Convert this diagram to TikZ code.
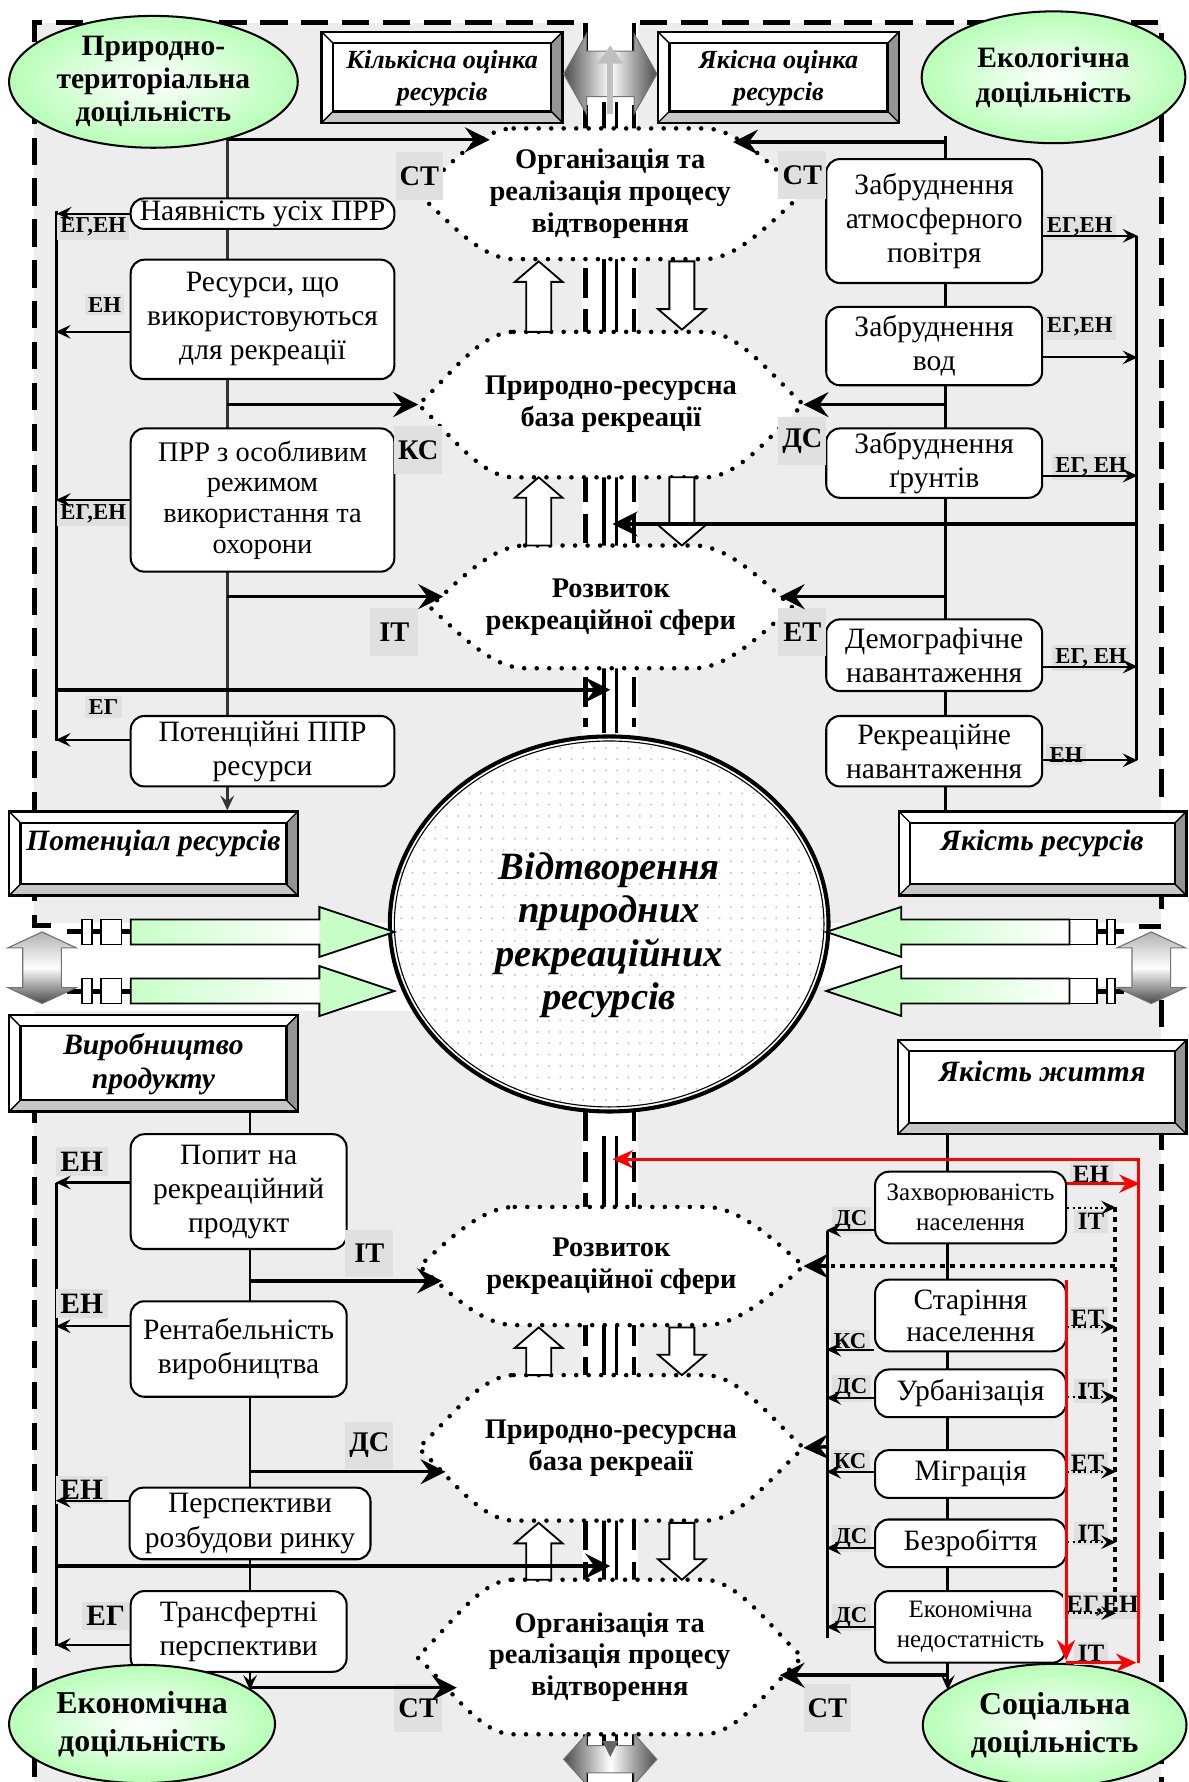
\documentclass[tikz,border=0pt]{standalone}
\usepackage{fontspec}
\setmainfont{Liberation Serif}
\usetikzlibrary{arrows.meta,positioning,calc,shapes.geometric}

\tikzset{
  fon/.style={fill=black!7},
  ramka/.style={line width=2.2pt, dash pattern=on 12pt off 6pt},
  vis/.style={line width=2pt, dash pattern=on 13pt off 5pt},
  chynnyk/.style={draw, line width=0.9pt, rounded corners=6pt, fill=white, align=center, inner sep=1pt, font=\fontsize{13}{15}\selectfont},
  chynnykm/.style={chynnyk, font=\fontsize{11}{13}\selectfont},
  docil/.style={ellipse, draw, line width=0.9pt, inner sep=0pt, align=center, inner color=white, outer color=green!28, font=\bfseries\fontsize{13}{14.5}\selectfont},
  otsinka/.style={align=center, font=\bfseries\itshape\fontsize{13}{15}\selectfont},
  etap/.style={align=center, font=\bfseries\fontsize{12.5}{14}\selectfont},
  kolo/.style={align=center, font=\bfseries\itshape\fontsize{17}{19}\selectfont},
  punktyr/.style={line width=2pt, dash pattern=on 0pt off 5.5pt, line cap=round},
  tochky/.style={line width=2pt, dash pattern=on 2.2pt off 2.2pt},
  mitka/.style={fill=black!12, font=\bfseries\fontsize{12.5}{13}\selectfont, inner sep=0pt, minimum width=21pt, minimum height=21pt},
  mitkam/.style={fill=black!12, font=\bfseries\fontsize{10}{10}\selectfont, inner sep=1.5pt},
  mitkar/.style={fill=black!12, font=\bfseries\fontsize{11}{11}\selectfont, inner sep=1.5pt},
  mitkab/.style={fill=black!12, font=\bfseries\fontsize{13}{13}\selectfont, inner sep=2pt},
  shyna/.style={line width=1.2pt},
  potik/.style={line width=1.5pt, -{Stealth[length=11pt,width=11pt,inset=4pt]}},
  vplyv/.style={line width=0.9pt, -{Stealth[length=6.5pt,width=6pt,inset=2.5pt]}},
  zvyaz/.style={line width=0.9pt, dash pattern=on 1pt off 1.5pt, -{Stealth[length=6.5pt,width=6pt,inset=2.5pt]}},
  chervona/.style={red, line width=1.3pt, -{Stealth[length=9pt,width=8pt,inset=3pt]}},
}

% рамка з фаскою: x1, y1, x2, y2
\newcommand{\obrys}[4]{%
  \fill[white] (#1,#2) rectangle (#3,#4);
  \fill[black!42] (#3,#2) -- (#3-10,#2+10) -- (#3-10,#4-10) -- (#3,#4) -- cycle;
  \fill[black!22] (#1,#4) -- (#1+10,#4-10) -- (#3-10,#4-10) -- (#3,#4) -- cycle;
  \draw[line width=1pt] (#1,#2) rectangle (#3,#4);
  \draw[line width=1pt] (#1+10,#2+10) rectangle (#3-10,#4-10);
  \draw[line width=0.6pt] (#1,#2) -- (#1+10,#2+10) (#3,#2) -- (#3-10,#2+10) (#1,#4) -- (#1+10,#4-10) (#3,#4) -- (#3-10,#4-10);
}
% етап: назва, верх, низ, лівий кінчик, правий кінчик, текст
\newcommand{\etapblock}[6]{%
  \pgfmathsetmacro{\hexym}{(#2+#3)/2}
  \pgfmathsetmacro{\hexxa}{#4+84}
  \pgfmathsetmacro{\hexxb}{#5-86}
  \filldraw[punktyr, fill=white] (\hexxa,#2) -- (\hexxb,#2) .. controls (\hexxb+30,#2) and (#5-25,\hexym-22) .. (#5,\hexym) .. controls (#5-25,\hexym+22) and (\hexxb+30,#3) .. (\hexxb,#3) -- (\hexxa,#3) .. controls (\hexxa-30,#3) and (#4+25,\hexym+22) .. (#4,\hexym) .. controls (#4+25,\hexym-22) and (\hexxa-30,#2) .. cycle;
  \coordinate (#1-w) at (#4,\hexym);
  \coordinate (#1-e) at (#5,\hexym);
  \node[etap] (#1) at ({(#4+#5)/2},\hexym) {#6};
}
% порожня стрілка: x, хвіст, вістря
\newcommand{\porozhnia}[3]{%
  \pgfmathsetmacro{\arrhb}{#3+18*sign(#2-#3)}
  \filldraw[fill=white, line width=0.8pt] (#1-11,#2) -- (#1-11,\arrhb) -- (#1-21,\arrhb) -- (#1,#3) -- (#1+21,\arrhb) -- (#1+11,\arrhb) -- (#1+11,#2) -- cycle;
}
% зелена стрілка: хвіст, вістря, y
\newcommand{\zelena}[3]{%
  \pgfmathsetmacro{\arrhb}{#2-66*sign(#2-#1)}
  \shade[left color=green!22, right color=white] (#1,#3-11) rectangle (\arrhb,#3+11);
  \fill[green!22] (\arrhb,#3-22) -- (#2,#3) -- (\arrhb,#3+22) -- cycle;
  \draw[line width=0.8pt] (#1,#3-11) -- (\arrhb,#3-11) -- (\arrhb,#3-22) -- (#2,#3) -- (\arrhb,#3+22) -- (\arrhb,#3+11) -- (#1,#3+11) -- cycle;
}
% сіра вертикальна подвійна стрілка: x, верх, низ
\newcommand{\sirav}[3]{%
  \shadedraw[top color=black!30, bottom color=black!72, middle color=white, draw=black!55, line width=0.5pt] (#1-17,#2+14) -- (#1-30,#2+14) -- (#1,#2) -- (#1+30,#2+14) -- (#1+17,#2+14) -- (#1+17,#3-14) -- (#1+30,#3-14) -- (#1,#3) -- (#1-30,#3-14) -- (#1-17,#3-14) -- cycle;
}
% сіра горизонтальна подвійна стрілка: лівий кінчик, правий кінчик, y, півширина вістря, півширина тіла
\newcommand{\sirah}[5]{%
  \shadedraw[left color=black!70, right color=black!70, middle color=white, draw=black!55, line width=0.5pt] (#1,#3) -- (#1+20,#3-#4) -- (#1+20,#3-#5) -- (#2-20,#3-#5) -- (#2-20,#3-#4) -- (#2,#3) -- (#2-20,#3+#4) -- (#2-20,#3+#5) -- (#1+20,#3+#5) -- (#1+20,#3+#4) -- cycle;
}

\begin{document}
\begin{tikzpicture}[x=0.5pt,y=-0.5pt]
  \useasboundingbox (0,0) rectangle (1046,1568); % межі рисунка
  \coordinate (lbus) at (50,0); % ліва шина
  \fill[fon] (30,20) rectangle (512,812); % фон зліва вгорі
  \fill[fon] (561,20) rectangle (1022,812); % фон справа вгорі
  \fill[fon] (30,890) rectangle (512,1568); % фон зліва внизу
  \fill[fon] (561,868) rectangle (1022,1568); % фон справа внизу
  \draw[ramka] (505,20) -- (30,20) -- (30,814) -- (52,814); % рамка ліворуч
  \draw[ramka] (563,20) -- (1022,20) -- (1022,800); % рамка праворуч
  \draw[ramka] (1002,815) -- (1022,815); % кут рамки
  \draw[ramka] (30,892) -- (30,1568); % рамка ліворуч унизу
  \draw[ramka] (1022,880) -- (1022,1568); % рамка праворуч унизу
  \draw[vis] (515,20) -- (515,640); % центральна вісь
  \draw[vis] (558,20) -- (558,640);
  \draw[vis] (515,978) -- (515,1568);
  \draw[vis] (558,978) -- (558,1568);
  \draw[line width=7pt] (537,90) -- (537,645); % подвійна лінія
  \draw[line width=4pt, white] (537,90) -- (537,645);
  \draw[line width=7pt] (537,1000) -- (537,1545);
  \draw[line width=4pt, white] (537,1000) -- (537,1545);

  \draw[shyna, black!80, -{Stealth[length=6.5pt,width=6pt,inset=2.5pt]}] (200,118) -- (200,713); % стовбур ліворуч
  \draw[shyna] (50,186) -- (50,652); % шина ліворуч
  \draw[shyna] (832,120) -- (832,714); % стовбур праворуч
  \draw[shyna] (1000,208) -- (1000,669); % шина праворуч
  \draw[shyna, -{Stealth[length=6.5pt,width=6pt,inset=2.5pt]}] (220,978) -- (220,1487); % стовбур ліворуч унизу
  \draw[shyna] (50,1041) -- (50,1448); % шина ліворуч унизу
  \draw[shyna, -{Stealth[length=6.5pt,width=6pt,inset=2.5pt]}] (834,998) -- (834,1487); % стовбур праворуч унизу
  \draw[shyna] (728,1083) -- (728,1441); % шина праворуч унизу

  \etapblock{org1}{113}{228}{368}{706}{Організація та\\реалізація процесу\\відтворення}
  \etapblock{baza1}{292}{420}{368}{707}{Природно-ресурсна\\база рекреації}
  \etapblock{rozv1}{480}{588}{378}{697}{Розвиток\\рекреаційної сфери}
  \etapblock{rozv2}{1062}{1166}{369}{707}{Розвиток\\рекреаційної сфери}
  \etapblock{baza2}{1210}{1338}{368}{707}{Природно-ресурсна\\база рекреаії}
  \etapblock{org2}{1390}{1526}{367}{706}{Організація та\\реалізація процесу\\відтворення}

  \node[chynnyk, minimum width=116pt, minimum height=13pt] (nayavn) at (231,188) {Наявність усіх ПРР};
  \node[chynnyk, minimum width=116pt, minimum height=52.5pt] (vykor) at (231,281) {Ресурси, що\\використовуються\\для рекреації};
  \node[chynnyk, minimum width=116pt, minimum height=63pt, font=\fontsize{12.5}{13.5}\selectfont] (osobl) at (231,440) {ПРР з особливим\\режимом\\використання та\\охорони};
  \node[chynnyk, minimum width=116pt, minimum height=31pt] (potents) at (231,661) {Потенційні ППР\\ресурси};
  \node[chynnyk, minimum width=95pt, minimum height=54.5pt] (atmos) at (822,194.5) {Забруднення\\атмосферного\\повітря};
  \node[chynnyk, minimum width=95pt, minimum height=34.5pt] (vody) at (822,304.5) {Забруднення\\вод};
  \node[chynnyk, minimum width=95pt, minimum height=30.5pt] (grunt) at (822,407.5) {Забруднення\\ґрунтів};
  \node[chynnyk, minimum width=95pt, minimum height=31.5pt] (demogr) at (822,576.5) {Демографічне\\навантаження};
  \node[chynnyk, minimum width=95pt, minimum height=31pt] (rekrnav) at (822,661) {Рекреаційне\\навантаження};
  \node[chynnyk, minimum width=95pt, minimum height=50.5pt] (popyt) at (210,1048.5) {Попит на\\рекреаційний\\продукт};
  \node[chynnyk, minimum width=95pt, minimum height=42pt] (rentab) at (210,1187) {Рентабельність\\виробництва};
  \node[chynnyk, minimum width=106pt, minimum height=31.5pt] (rynok) at (220,1340.5) {Перспективи\\розбудови ринку};
  \node[chynnyk, minimum width=95pt, minimum height=35.5pt] (transf) at (210,1435.5) {Трансфертні\\перспективи};
  \node[chynnykm, minimum width=84pt, minimum height=31.5pt] (zakhv) at (854,1062.5) {Захворюваність\\населення};
  \node[chynnyk, minimum width=84pt, minimum height=31.5pt, font=\fontsize{13}{14}\selectfont] (starin) at (854,1157.5) {Старіння\\населення};
  \node[chynnyk, minimum width=84pt, minimum height=21pt] (urban) at (854,1226) {Урбанізація};
  \node[chynnyk, minimum width=84pt, minimum height=21pt] (migr) at (854,1297) {Міграція};
  \node[chynnyk, minimum width=84pt, minimum height=21pt] (bezrob) at (854,1358) {Безробіття};
  \node[chynnykm, minimum width=84pt, minimum height=31.5pt] (ekned) at (854,1431.5) {Економічна\\недостатність};

  \porozhnia{474}{292}{230} % стрілки між етапами
  \porozhnia{600}{230}{290}
  \porozhnia{474}{480}{420}
  \porozhnia{600}{420}{480}
  \porozhnia{474}{1210}{1168}
  \porozhnia{600}{1168}{1210}
  \porozhnia{474}{1390}{1340}
  \porozhnia{600}{1340}{1390}

  \obrys{283}{28}{495}{108} % кількісна оцінка
  \node[otsinka, font=\bfseries\itshape\fontsize{11.5}{14}\selectfont] (kilk) at (389,69) {Кількісна оцінка\\ресурсів};
  \obrys{579}{28}{791}{108} % якісна оцінка
  \node[otsinka, font=\bfseries\itshape\fontsize{11.5}{14}\selectfont] (yakisna) at (685,69) {Якісна оцінка\\ресурсів};
  \obrys{8}{714}{262}{788} % потенціал
  \node[otsinka] (potentsial) at (135,742) {Потенціал ресурсів};
  \obrys{791}{714}{1044}{788} % якість ресурсів
  \node[otsinka] (yakres) at (917,742) {Якість ресурсів};
  \obrys{8}{893}{262}{978} % виробництво
  \node[otsinka] (vyrob) at (135,936) {Виробництво\\продукту};
  \obrys{790}{915}{1044}{998} % якість життя
  \node[otsinka] (yakzhyt) at (917,943) {Якість життя};

  \node[docil, minimum width=127pt, minimum height=58pt] (prter) at (135,72) {Природно-\\територіальна\\доцільність};
  \node[docil, minimum width=116pt, minimum height=58pt, font=\bfseries\fontsize{13}{15.5}\selectfont] (ekol) at (927,68) {Екологічна\\доцільність};
  \node[docil, minimum width=117pt, minimum height=52pt, font=\bfseries\fontsize{14}{17}\selectfont] (ekon) at (125,1517) {Економічна\\доцільність};
  \node[docil, minimum width=116pt, minimum height=54pt, font=\bfseries\fontsize{14}{17}\selectfont] (sots) at (928,1518) {Соціальна\\доцільність};

  \node[mitka] (st1) at (369,155) {СТ}; % мітки
  \node[mitka] (st2) at (706,154) {СТ};
  \node[mitka] (ks1) at (368,396) {КС};
  \node[mitka] (ds1) at (706,388) {ДС};
  \node[mitka] (it1) at (347,556) {ІТ};
  \node[mitka] (et1) at (706,556) {ЕТ};
  \node[mitkam] (m1) at (82,200) {ЕГ,ЕН};
  \node[mitkam] (m2) at (92,268) {ЕН};
  \node[mitkam] (m3) at (82,452) {ЕГ,ЕН};
  \node[mitkam] (m4) at (91,622) {ЕГ};
  \node[mitkam] (m5) at (950,200) {ЕГ,ЕН};
  \node[mitkam] (m6) at (950,288) {ЕГ,ЕН};
  \node[mitkam] (m7) at (960,411) {ЕГ, ЕН};
  \node[mitkam] (m8) at (960,579) {ЕГ, ЕН};
  \node[mitkam] (m9) at (938,664) {ЕН};
  \node[mitkab] (m10) at (72,1022) {ЕН};
  \node[mitkab] (m11) at (72,1147) {ЕН};
  \node[mitkab] (m12) at (72,1311) {ЕН};
  \node[mitkab] (m13) at (93,1422) {ЕГ};
  \node[mitka] (it2) at (325,1103) {ІТ};
  \node[mitka] (ds2) at (325,1272) {ДС};
  \node[mitka] (st3) at (368,1503) {СТ};
  \node[mitka] (st4) at (728,1503) {СТ};
  \node[mitkam] (m14) at (749,1074) {ДС};
  \node[mitkam] (m15) at (748,1180) {КС};
  \node[mitkam] (m16) at (749,1222) {ДС};
  \node[mitkam] (m17) at (748,1286) {КС};
  \node[mitkam] (m18) at (749,1354) {ДС};
  \node[mitkam] (m19) at (749,1423) {ДС};
  \node[mitkar] (m20) at (960,1033) {ЕН};
  \node[mitkar] (m21) at (960,1075) {ІТ};
  \node[mitkar] (m22) at (957,1160) {ЕТ};
  \node[mitkar] (m23) at (960,1224) {ІТ};
  \node[mitkar] (m24) at (957,1288) {ЕТ};
  \node[mitkar] (m25) at (960,1349) {ІТ};
  \node[mitkar] (m26) at (970,1413) {ЕГ,ЕН};
  \node[mitkar] (m27) at (960,1455) {ІТ};

  \draw[vplyv] (nayavn.west) -- (nayavn.west -| lbus); % впливи ліворуч
  \draw[vplyv] (vykor.west) ++(0,11) -- ++(-65,0);
  \draw[vplyv] (osobl.west) -- ++(-65,0);
  \draw[vplyv] (potents.west) ++(0,-10) -- ++(-65,0);
  \draw[potik] (200,123) -- (431,123); % потоки до етапів
  \draw[potik] (200,356) -- (baza1-w);
  \draw[potik] (200,525) -- (390,525);
  \draw[potik] (50,607) -- (537,607);
  \draw[vplyv] (atmos.east) ++(0,13) -- ++(83,0); % впливи праворуч
  \draw[vplyv] (vody.east) ++(0,10) -- ++(83,0);
  \draw[vplyv] (grunt.east) ++(0,11) -- ++(83,0);
  \draw[vplyv] (demogr.east) ++(0,10) -- ++(83,0);
  \draw[vplyv] (rekrnav.east) ++(0,8) -- ++(83,0);
  \draw[potik] (832,125) -- (645,125);
  \draw[potik] (832,356) -- (baza1-e);
  \draw[potik] (832,525) -- (686,525);
  \draw[potik] (1000,461) -- (539,461);
  \draw[vplyv] (popyt.west) ++(0,-8) -- ++(-65,0); % впливи ліворуч унизу
  \draw[vplyv] (rentab.west) ++(0,-20) -- ++(-65,0);
  \draw[vplyv] (rynok.west) ++(0,-20) -- ++(-64,0);
  \draw[vplyv] (transf.west) ++(0,12) -- ++(-65,0);
  \draw[potik] (220,1127) -- (389,1127);
  \draw[potik] (220,1295) -- (392,1295);
  \draw[potik] (50,1378) -- (537,1378);
  \draw[potik] (220,1485) -- (402,1485);
  \draw[vplyv] (zakhv.west) ++(0,20) -- ++(-42,0); % впливи праворуч унизу
  \draw[vplyv] (starin.west) ++(0,30) -- ++(-42,0);
  \draw[vplyv] (urban.west) ++(0,4) -- ++(-42,0);
  \draw[vplyv] (migr.west) ++(0,-2) -- ++(-42,0);
  \draw[vplyv] (bezrob.west) ++(0,4) -- ++(-42,0);
  \draw[vplyv] (ekned.west) -- ++(-42,0);
  \draw[potik] (728,1114) -- (rozv2-e);
  \draw[potik] (728,1273) -- (baza2-e);
  \draw[potik] (834,1474) -- (686,1474);
  \draw[tochky] (981,1062) -- (981,1419); % пунктирні зв'язки
  \draw[tochky] (981,1114) -- (731,1114);
  \draw[zvyaz] (zakhv.east) -- ++(43,0);
  \draw[zvyaz] (starin.east) ++(0,10) -- ++(43,0);
  \draw[zvyaz] (urban.east) ++(0,3) -- ++(43,0);
  \draw[zvyaz] (migr.east) ++(0,-2) -- ++(43,0);
  \draw[zvyaz] (bezrob.east) ++(0,-1) -- ++(43,0);
  \draw[zvyaz] (ekned.east) ++(0,-12) -- ++(43,0);
  \draw[chervona] (1002,1463) -- (1002,1020) -- (539,1020); % червоні зв'язки
  \draw[chervona] (zakhv.east) ++(0,-21) -- ++(64,0);
  \draw[chervona] (938,1126) -- (938,1461);
  \draw[chervona] (938,1463) -- (1000,1463);

  \fill[white] (536,813) ellipse (96.5pt and 82.5pt); % центральне коло
  \begin{scope}
    \clip (536,813) ellipse (96.5pt and 82.5pt);
    \foreach \i in {0,...,39} \foreach \j in {0,...,33} \fill[black!22] ({343+\i*10},{648+\j*10}) circle (0.5pt);
  \end{scope}
  \draw[line width=1.8pt] (536,813) ellipse (96.5pt and 82.5pt);
  \draw[line width=0.5pt] (536,813) ellipse (94.5pt and 80.5pt);
  \node[kolo] (vidtv) at (536,823) {Відтворення\\природних\\рекреаційних\\ресурсів};

  \draw[line width=2.2pt] (59,820) -- (115,820); % з'єднувачі зелених стрілок
  \draw[line width=2.2pt] (59,872) -- (115,872);
  \draw[line width=2.2pt] (941,820) -- (989,820);
  \draw[line width=2.2pt] (941,872) -- (989,872);
  \foreach \yy in {820,872} {
    \filldraw[fill=white, line width=0.7pt] (72,\yy-11) rectangle (81,\yy+11);
    \filldraw[fill=white, line width=0.7pt] (89,\yy-11) rectangle (107,\yy+11);
    \filldraw[fill=white, line width=0.7pt] (941,\yy-11) rectangle (965,\yy+11);
    \filldraw[fill=white, line width=0.7pt] (974,\yy-11) rectangle (981,\yy+11);
  }
  \zelena{115}{347}{820} % зелені стрілки
  \zelena{115}{347}{872}
  \zelena{941}{727}{820}
  \zelena{941}{727}{872}
  \sirav{37}{820}{883} % сірі стрілки
  \sirav{1013}{820}{883}
  \sirah{496}{578}{65}{35}{20}
  \draw[black!25, line width=2.5pt, -{Triangle[length=8pt,width=11pt]}] (537,100) -- (537,40);
  \sirah{496}{578}{1548}{22}{12}
  \fill[black!60] (530,1532) -- (544,1532) -- (537,1546) -- cycle;
\end{tikzpicture}
\end{document}
